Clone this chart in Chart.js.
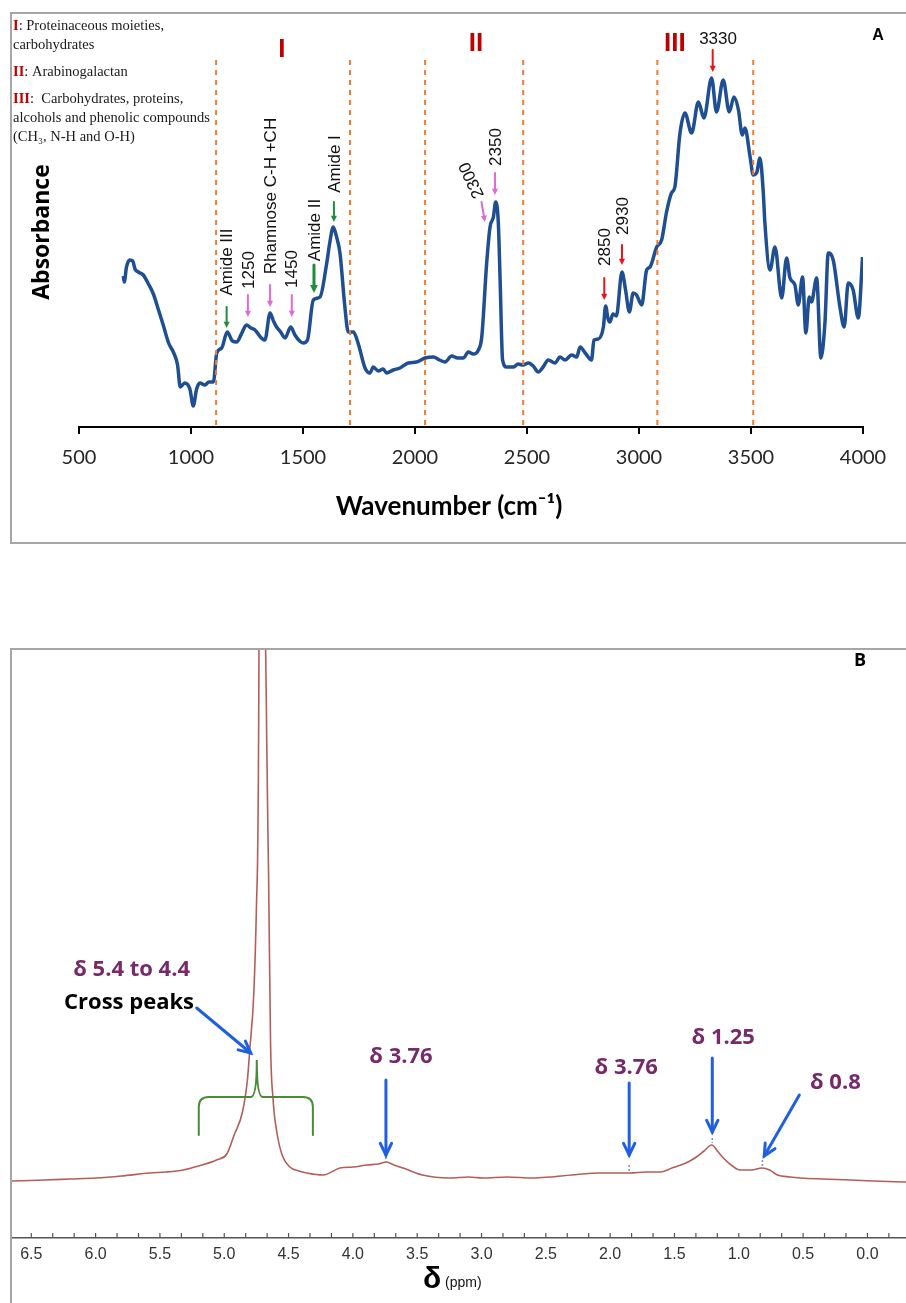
<!DOCTYPE html>
<html>
<head>
<meta charset="utf-8">
<script src="https://cdn.jsdelivr.net/npm/chart.js@4.4.1/dist/chart.umd.min.js"></script>
<style>
  html, body { margin: 0; padding: 0; background: #fff; }
  body { width: 906px; height: 1303px; position: relative; overflow: hidden; }
  #panelA { position: absolute; left: 10px; top: 12px; width: 896px; height: 532px;
            border: 2px solid #a6a6a6; border-right: none; box-sizing: border-box; }
  #panelB { position: absolute; left: 10px; top: 648px; width: 896px; height: 700px;
            border-top: 2px solid #a6a6a6; border-left: 2px solid #a6a6a6; box-sizing: border-box; }
  canvas { display: block; }
</style>
</head>
<body>
<div id="panelA"><canvas id="ftirChart" width="894" height="528"></canvas></div>
<div id="panelB"><canvas id="nmrChart" width="894" height="653"></canvas></div>
<script>
// ---- FTIR spectrum (panel A) ----
const ftirWavenumber = [698, 702, 712, 727, 740, 750, 765, 787, 810, 832, 855, 876, 900, 921, 940, 952, 972, 995, 1010, 1025, 1040, 1062, 1080, 1100, 1115, 1137, 1162, 1185, 1204, 1225, 1248, 1268, 1286, 1310, 1330, 1353, 1368, 1382, 1400, 1420, 1445, 1464, 1485, 1501, 1520, 1546, 1576, 1606, 1620, 1635, 1650, 1665, 1687, 1702, 1725, 1747, 1777, 1799, 1814, 1836, 1858, 1873, 1903, 1933, 1970, 2007, 2045, 2082, 2110, 2134, 2164, 2190, 2216, 2238, 2260, 2283, 2298, 2320, 2335, 2350, 2360, 2372, 2380, 2391, 2409, 2440, 2460, 2482, 2506, 2528, 2550, 2572, 2595, 2625, 2647, 2670, 2699, 2722, 2737, 2760, 2788, 2799, 2818, 2841, 2851, 2862, 2870, 2884, 2899, 2924, 2940, 2957, 2974, 2989, 3012, 3034, 3049, 3079, 3101, 3123, 3145, 3160, 3183, 3205, 3235, 3265, 3290, 3324, 3346, 3376, 3403, 3424, 3444, 3461, 3473, 3496, 3510, 3525, 3540, 3555, 3562, 3585, 3607, 3637, 3659, 3674, 3696, 3711, 3730, 3745, 3760, 3770, 3793, 3812, 3830, 3845, 3867, 3897, 3916, 3934, 3956, 3979, 3998];
const ftirAbsorbance = [151, 145, 160, 167, 166, 158, 155, 152, 143, 133, 117, 102, 84, 75, 62, 40, 44, 38, 21, 38, 44, 42, 45, 45, 74, 79, 95, 86, 85, 93, 102, 99, 97, 90, 87, 114, 106, 100, 95, 89, 100, 92, 86, 84, 87, 127, 130, 164, 185, 200, 190, 174, 120, 95, 95, 83, 59, 54, 60, 56, 58, 54, 57, 59, 64, 65, 69, 70, 67, 65, 71, 69, 69, 75, 73, 77, 90, 164, 200, 210, 225, 204, 147, 67, 60, 60, 63, 62, 64, 61, 55, 60, 67, 64, 70, 67, 72, 70, 80, 74, 67, 87, 88, 100, 121, 108, 105, 113, 111, 155, 137, 115, 134, 132, 122, 157, 160, 180, 187, 215, 234, 240, 294, 314, 294, 325, 309, 349, 315, 347, 315, 330, 317, 292, 299, 270, 252, 254, 269, 234, 204, 157, 180, 129, 169, 149, 142, 122, 150, 94, 130, 125, 149, 69, 104, 174, 167, 120, 100, 144, 137, 109, 170];
const ftirTicks = [500, 1000, 1500, 2000, 2500, 3000, 3500, 4000];
const regionBounds = [1112, 1710, 2045, 2483, 3082, 3510];

// ---- 1H NMR spectrum (panel B) ----
const nmrShift = [6.65, 6.4, 6.2, 6.0, 5.8, 5.58, 5.45, 5.32, 5.2, 5.06, 4.98, 4.92, 4.86, 4.82, 4.80, 4.77, 4.75, 4.73, 4.71, 4.69, 4.67, 4.655, 4.64, 4.62, 4.59, 4.55, 4.49, 4.42, 4.36, 4.23, 4.10, 4.0, 3.89, 3.80, 3.74, 3.68, 3.61, 3.46, 3.25, 3.1, 2.99, 2.8, 2.6, 2.47, 2.3, 2.08, 1.95, 1.85, 1.72, 1.61, 1.52, 1.45, 1.38, 1.33, 1.27, 1.21, 1.16, 1.12, 1.05, 0.99, 0.90, 0.82, 0.76, 0.70, 0.60, 0.52, 0.35, 0.13, -0.05, -0.30];
const nmrIntensity = [57, 58, 59, 60, 62, 65, 66, 68, 72, 78, 84, 104, 125, 158, 191, 245, 330, 590, 2500, 900, 500, 360, 195, 138, 105, 83, 71, 67, 65, 63, 70, 71, 73, 74, 76, 73, 70, 63, 60, 61, 60, 61, 60, 61, 63, 65, 65, 65, 66, 66, 70, 73, 77, 81, 87, 93, 86, 80, 72, 68, 68, 70, 68, 63, 61, 60, 59, 58, 57, 56];
const nmrTicks = [6.5, 6.0, 5.5, 5.0, 4.5, 4.0, 3.5, 3.0, 2.5, 2.0, 1.5, 1.0, 0.5, 0.0];
const nmrTickLabels = ['6.5', '6.0', '5.5', '5.0', '4.5', '4.0', '3.5', '3.0', '2.5', '2.0', '1.5', '1.0', '0.5', '0.0'];

const GREEN = '#1f8d3d';
const PINK = '#de6bcf';
const RED = '#e8141a';
const BLUE = '#1f5fe0';
const PURPLE = '#762a6a';

function drawArrow(ctx, x1, y1, x2, y2, color, width, head, filled) {
  const ang = Math.atan2(y2 - y1, x2 - x1);
  ctx.strokeStyle = color;
  ctx.fillStyle = color;
  ctx.lineWidth = width;
  ctx.lineCap = 'round';
  ctx.beginPath();
  ctx.moveTo(x1, y1);
  if (filled) ctx.lineTo(x2 - Math.cos(ang) * head * 0.7, y2 - Math.sin(ang) * head * 0.7);
  else ctx.lineTo(x2, y2);
  ctx.stroke();
  const a1 = ang + Math.PI - 0.45, a2 = ang + Math.PI + 0.45;
  ctx.beginPath();
  ctx.moveTo(x2 + Math.cos(a1) * head, y2 + Math.sin(a1) * head);
  ctx.lineTo(x2, y2);
  ctx.lineTo(x2 + Math.cos(a2) * head, y2 + Math.sin(a2) * head);
  if (filled) { ctx.closePath(); ctx.fill(); } else ctx.stroke();
}

function putText(ctx, text, x, y, font, color, angle, align) {
  ctx.save();
  ctx.translate(x, y);
  ctx.rotate(angle || 0);
  ctx.font = font;
  ctx.fillStyle = color;
  ctx.textAlign = align || 'center';
  ctx.textBaseline = 'middle';
  ctx.fillText(text, 0, 0);
  ctx.restore();
}

// peak labels of panel A: arrow at wn from value `from` down to `to`, label centred at ty
const ftirMarks = [
  { text: 'Amide III', wn: 1159, from: 120, to: 99, ty: 165, color: GREEN, w: 2 },
  { text: '1250', wn: 1254, from: 132, to: 110, ty: 157, color: PINK, w: 2 },
  { text: 'Rhamnose C-H +CH', wn: 1353, from: 142, to: 120, ty: 231, color: PINK, w: 2 },
  { text: '1450', wn: 1450, from: 132, to: 110, ty: 158, color: PINK, w: 2 },
  { text: 'Amide II', wn: 1549, from: 162, to: 134, ty: 197, color: GREEN, w: 3 },
  { text: 'Amide I', wn: 1638, from: 225, to: 205, ty: 263, color: GREEN, w: 2 },
  { text: '2350', wn: 2357, from: 254, to: 232, ty: 280, color: PINK, w: 2 },
  { text: '2850', wn: 2845, from: 149, to: 127, ty: 180, color: RED, w: 2 },
  { text: '2930', wn: 2924, from: 182, to: 162, ty: 211, color: RED, w: 2 }
];

const ftirLegend = [
  { num: 'I', text: ': Proteinaceous moieties,', y: 12 },
  { num: '', text: 'carbohydrates', y: 31 },
  { num: 'II', text: ': Arabinogalactan', y: 58 },
  { num: 'III', text: ':  Carbohydrates, proteins,', y: 85 },
  { num: '', text: 'alcohols and phenolic compounds', y: 104 },
  { num: '', text: '(CH\u2083, N-H and O-H)', y: 123 }
];

const ftirDecor = {
  id: 'ftirDecor',
  afterDatasetsDraw(chart) {
    const { ctx, scales: { x, y } } = chart;
    ctx.save();
    // region boundaries
    ctx.strokeStyle = '#ed7d31';
    ctx.lineWidth = 2;
    ctx.setLineDash([5, 5]);
    regionBounds.forEach(w => {
      const X = x.getPixelForValue(w);
      ctx.beginPath();
      ctx.moveTo(X, y.getPixelForValue(367));
      ctx.lineTo(X, y.getPixelForValue(0));
      ctx.stroke();
    });
    ctx.setLineDash([]);

    const labelFont = '17px "Liberation Sans", Arial, sans-serif';
    ftirMarks.forEach(m => {
      const X = x.getPixelForValue(m.wn);
      drawArrow(ctx, X, y.getPixelForValue(m.from), X, y.getPixelForValue(m.to), m.color, m.w, m.w > 2 ? 9 : 7, true);
      putText(ctx, m.text, X + 1, y.getPixelForValue(m.ty), labelFont, '#111', -Math.PI / 2);
    });
    // slanted 2300 label
    drawArrow(ctx, x.getPixelForValue(2297), y.getPixelForValue(225), x.getPixelForValue(2312), y.getPixelForValue(205), PINK, 2, 7, true);
    putText(ctx, '2300', x.getPixelForValue(2254), y.getPixelForValue(247), labelFont, '#111', -115 * Math.PI / 180);
    // 3330 label
    drawArrow(ctx, x.getPixelForValue(3329), y.getPixelForValue(377), x.getPixelForValue(3329), y.getPixelForValue(355), RED, 2, 7, true);
    putText(ctx, '3330', x.getPixelForValue(3353), y.getPixelForValue(388), labelFont, '#111');

    // region numerals
    const romanFont = 'bold 26px "Liberation Sans", Arial, sans-serif';
    putText(ctx, 'I', x.getPixelForValue(1406), y.getPixelForValue(377), romanFont, '#c00000');
    putText(ctx, 'II', x.getPixelForValue(2272), y.getPixelForValue(383), romanFont, '#c00000');
    putText(ctx, 'III', x.getPixelForValue(3160), y.getPixelForValue(383), romanFont, '#c00000');

    // legend text, top left
    ftirLegend.forEach(l => {
      let cx = 1;
      if (l.num) {
        ctx.font = 'bold 14.5px "Liberation Serif", serif';
        putText(ctx, l.num, cx, l.y, ctx.font, '#c00000', 0, 'left');
        cx += ctx.measureText(l.num).width;
      }
      putText(ctx, l.text, cx, l.y, '14.5px "Liberation Serif", serif', '#1a1a1a', 0, 'left');
    });

    // axis titles
    putText(ctx, 'Absorbance', 30, 218, 'bold 23px "Open Sans", sans-serif', '#000', -Math.PI / 2);
    putText(ctx, 'Wavenumber (cm\u207B\u00B9)', 437, 493, 'bold 26px Lato, sans-serif', '#000');

    putText(ctx, 'A', 866, 22, 'bold 16px "Liberation Sans", Arial, sans-serif', '#000');
    ctx.restore();
  }
};

new Chart(document.getElementById('ftirChart'), {
  type: 'line',
  data: {
    datasets: [{
      data: ftirWavenumber.map((w, i) => ({ x: w, y: ftirAbsorbance[i] })),
      borderColor: '#1f4e93',
      borderWidth: 3.5,
      pointRadius: 0,
      cubicInterpolationMode: 'monotone',
      fill: false
    }]
  },
  options: {
    responsive: false,
    animation: false,
    events: [],
    layout: { padding: { left: 67, right: 43, top: 41, bottom: 0 } },
    plugins: { legend: { display: false }, tooltip: { enabled: false } },
    scales: {
      x: {
        type: 'linear',
        min: 500,
        max: 4000,
        afterBuildTicks: s => { s.ticks = ftirTicks.map(v => ({ value: v })); },
        afterFit: s => { s.height = 115; },
        ticks: {
          autoSkip: false, maxRotation: 0, padding: 12, color: '#262626',
          font: { family: 'Lato', size: 20 },
          callback: v => String(v)
        },
        grid: { drawOnChartArea: false, drawTicks: true, tickLength: 7, color: '#000', lineWidth: 2 },
        border: { color: '#000', width: 2 }
      },
      y: { display: false, min: 0, max: 372 }
    }
  },
  plugins: [ftirDecor]
});

// ---- panel B annotations ----
const nmrLabels = [
  { text: '\u03B4 3.76', s: 3.626, v: 181, from: [3.743, 158], to: [3.743, 83] },
  { text: '\u03B4 3.76', s: 1.875, v: 170, from: [1.852, 155], to: [1.852, 83] },
  { text: '\u03B4 1.25', s: 1.121, v: 200, from: [1.206, 180], to: [1.206, 106] },
  { text: '\u03B4 0.8', s: 0.249, v: 155, from: [0.529, 143], to: [0.802, 82] }
];
const peakMarks = [[3.743, 81, 76], [1.852, 73, 66], [1.206, 100, 95], [0.816, 78, 71]];

const nmrDecor = {
  id: 'nmrDecor',
  afterDatasetsDraw(chart) {
    const { ctx, scales: { x, y } } = chart;
    const P = (s, v) => [x.getPixelForValue(s), y.getPixelForValue(v)];
    ctx.save();

    // inward tick marks on the shift axis
    ctx.strokeStyle = '#555';
    ctx.lineWidth = 1.2;
    x.ticks.forEach(t => {
      const X = x.getPixelForValue(t.value);
      ctx.beginPath();
      ctx.moveTo(X, y.bottom);
      ctx.lineTo(X, y.bottom - 5);
      ctx.stroke();
    });

    // small markers at picked peaks
    ctx.strokeStyle = '#7f8fb5';
    ctx.lineWidth = 1.5;
    ctx.setLineDash([2, 2]);
    peakMarks.forEach(m => {
      const [X, Y1] = P(m[0], m[1]);
      ctx.beginPath(); ctx.moveTo(X, Y1); ctx.lineTo(X, y.getPixelForValue(m[2])); ctx.stroke();
    });
    ctx.setLineDash([]);

    const labFont = 'bold 22px "Open Sans", sans-serif';
    nmrLabels.forEach(l => {
      const [tx, ty] = P(l.s, l.v);
      putText(ctx, l.text, tx, ty, labFont, PURPLE);
      const [x1, y1] = P(l.from[0], l.from[1]);
      const [x2, y2] = P(l.to[0], l.to[1]);
      drawArrow(ctx, x1, y1, x2, y2, BLUE, 3, 13, false);
    });

    // cross peaks label and bracket
    let [tx, ty] = P(5.72, 268);
    putText(ctx, '\u03B4 5.4 to 4.4', tx, ty, labFont, PURPLE);
    [tx, ty] = P(5.74, 235);
    putText(ctx, 'Cross peaks', tx, ty, labFont, '#000');
    const [ax1, ay1] = P(5.214, 230);
    const [ax2, ay2] = P(4.794, 185);
    drawArrow(ctx, ax1, ay1, ax2, ay2, BLUE, 3, 13, false);

    const [bl, bb] = P(5.198, 103);
    const [bm, bt] = P(4.747, 178);
    const [br] = P(4.311, 103);
    const bh = y.getPixelForValue(141);
    ctx.strokeStyle = '#4a8a3a';
    ctx.lineWidth = 2;
    ctx.beginPath();
    ctx.moveTo(bl, bb);
    ctx.lineTo(bl, bh + 10);
    ctx.quadraticCurveTo(bl, bh, bl + 10, bh);
    ctx.lineTo(bm - 6, bh);
    ctx.quadraticCurveTo(bm, bh, bm, bt);
    ctx.quadraticCurveTo(bm, bh, bm + 6, bh);
    ctx.lineTo(br - 10, bh);
    ctx.quadraticCurveTo(br, bh, br, bh + 10);
    ctx.lineTo(br, bb);
    ctx.stroke();

    // axis title  δ (ppm)
    putText(ctx, '\u03B4', 420, 630, 'bold 30px "Liberation Sans", Arial, sans-serif', '#000');
    putText(ctx, '(ppm)', 433, 633, '14px "Liberation Sans Narrow", "Liberation Sans", sans-serif', '#111', 0, 'left');

    putText(ctx, 'B', 848, 11, 'bold 18px "Open Sans", sans-serif', '#000');
    ctx.restore();
  }
};

new Chart(document.getElementById('nmrChart'), {
  type: 'line',
  data: {
    datasets: [{
      data: nmrShift.map((s, i) => ({ x: s, y: nmrIntensity[i] })),
      borderColor: '#b45e59',
      borderWidth: 1.6,
      pointRadius: 0,
      cubicInterpolationMode: 'monotone',
      fill: false
    }]
  },
  options: {
    responsive: false,
    animation: false,
    events: [],
    layout: { padding: 0 },
    plugins: { legend: { display: false }, tooltip: { enabled: false } },
    scales: {
      x: {
        type: 'linear',
        reverse: true,
        min: -0.30,
        max: 6.65,
        afterBuildTicks: s => {
          const t = [];
          nmrTicks.forEach(v => {
            t.push({ value: v });
            [1, 2].forEach(k => {
              const m = v - k * 0.5 / 3;
              if (m >= s.min) t.push({ value: m });
            });
          });
          t.sort((a, b) => a.value - b.value);
          s.ticks = t;
        },
        afterFit: s => { s.height = 65; },
        ticks: {
          autoSkip: false, maxRotation: 0, padding: 7, color: '#333',
          font: { family: '"Liberation Sans Narrow", "Liberation Sans", sans-serif', size: 16 },
          callback: v => {
            const i = nmrTicks.findIndex(t => Math.abs(t - v) < 1e-6);
            return i >= 0 ? nmrTickLabels[i] : '';
          }
        },
        grid: { display: false, drawTicks: false },
        border: { color: '#555', width: 1.5 }
      },
      y: { display: false, min: 0, max: 588 }
    }
  },
  plugins: [nmrDecor]
});
</script>
</body>
</html>
